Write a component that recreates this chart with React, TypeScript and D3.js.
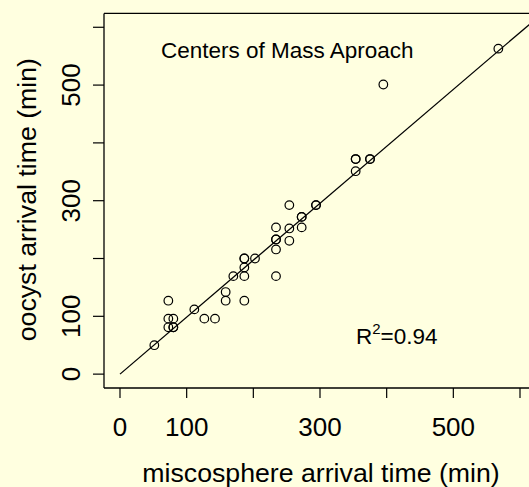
import React, { useEffect } from "react";
import * as d3 from "d3";

const W = 529;
const H = 487;

// micro-sphere arrival time (min) vs oocyst arrival time (min)
const microsphereTimes = [
  51.5, 72.5, 72.5, 80, 72.5, 80, 80, 111.5, 126.5, 142.5, 158.5, 158.5, 170,
  186.5, 186.5, 186.5, 186.5, 186.5, 202.5, 234, 234, 234, 234, 234, 254, 254,
  254, 272.5, 272.5, 272.5, 294, 294, 353.5, 353.5, 353.5, 375, 375, 395, 567.5,
];
const oocystTimes = [
  50, 127, 96, 96, 81, 81, 81, 112, 96, 96, 142, 127, 169.5, 200, 200, 184.6,
  169.5, 127, 200, 253.8, 233, 233, 215.7, 169.5, 292.4, 252, 230.6, 272, 272,
  253.8, 292.4, 292.4, 372, 372, 351, 372, 372, 501, 563,
];

const fitSlope = 0.985;
const fitIntercept = 0;
const fitXRange = [0, 620];

const tickValues = [0, 100, 200, 300, 400, 500, 600];
const tickLabelValues = [0, 100, 300, 500];

const xTitle = "miscosphere arrival time (min)";
const yTitle = "oocyst arrival time (min)";
const annotation = "Centers of Mass Aproach";
const r2Value = "0.94";

const BG = "#FFFFE0";
const FONT = "'Liberation Sans', Arial, Helvetica, sans-serif";

export default function App() {
  useEffect(() => {
    document.body.style.margin = "0";
    document.body.style.background = BG;
  }, []);

  const x = d3.scaleLinear().domain([-24, 624]).range([104, 536]);
  const y = d3.scaleLinear().domain([-24, 624]).range([388, 13.4]);

  const pts = microsphereTimes.map((v, i) => [v, oocystTimes[i]]);
  const line = d3
    .line<number>()
    .x((d) => x(d))
    .y((d) => y(fitIntercept + fitSlope * d));

  const plotLeft = x(-24);
  const plotRight = x(624);
  const plotTop = y(624);
  const plotBottom = y(-24);
  const cx = (x(-24) + x(624)) / 2;
  const cy = (y(-24) + y(624)) / 2;

  return (
    <svg
      width={W}
      height={H}
      style={{ position: "absolute", left: 0, top: 0, display: "block" }}
      fontFamily={FONT}
    >
      <rect x={0} y={0} width={W} height={H} fill={BG} />

      {/* regression line */}
      <path
        d={line(fitXRange) || ""}
        fill="none"
        stroke="#000"
        strokeWidth={1.3}
      />

      {/* points */}
      {pts.map((p, i) => (
        <circle
          key={i}
          cx={x(p[0])}
          cy={y(p[1])}
          r={4.3}
          fill="none"
          stroke="#000"
          strokeWidth={1.2}
        />
      ))}

      {/* box (right side falls outside the canvas) */}
      <line x1={plotLeft} x2={plotRight} y1={plotTop} y2={plotTop} stroke="#000" strokeWidth={1.3} />
      <line x1={plotLeft} x2={plotRight} y1={plotBottom} y2={plotBottom} stroke="#000" strokeWidth={1.3} />
      <line x1={plotLeft} x2={plotLeft} y1={plotTop} y2={plotBottom} stroke="#000" strokeWidth={1.3} />

      {/* x axis */}
      {tickValues.map((t) => (
        <line
          key={"xt" + t}
          x1={x(t)}
          x2={x(t)}
          y1={plotBottom}
          y2={plotBottom + 10}
          stroke="#000"
          strokeWidth={1.2}
        />
      ))}
      {tickLabelValues.map((t) => (
        <text key={"xl" + t} x={x(t)} y={435.5} textAnchor="middle" fontSize={26} fill="#000">
          {t}
        </text>
      ))}

      {/* y axis */}
      {tickValues.map((t) => (
        <line
          key={"yt" + t}
          x1={plotLeft - 11}
          x2={plotLeft}
          y1={y(t)}
          y2={y(t)}
          stroke="#000"
          strokeWidth={1.2}
        />
      ))}
      {tickLabelValues.map((t) => (
        <text
          key={"yl" + t}
          transform={`translate(80,${y(t)}) rotate(-90)`}
          textAnchor="middle"
          fontSize={26}
          fill="#000"
        >
          {t}
        </text>
      ))}

      {/* axis titles */}
      <text x={cx + 1} y={481.5} textAnchor="middle" fontSize={26.7} fill="#000">
        {xTitle}
      </text>
      <text
        transform={`translate(35.5,${cy - 1}) rotate(-90)`}
        textAnchor="middle"
        fontSize={26.7}
        fill="#000"
      >
        {yTitle}
      </text>

      {/* annotations */}
      <text x={161} y={58.3} fontSize={22.5} fill="#000">
        {annotation}
      </text>
      <text x={356} y={344.3} fontSize={22.5} fill="#000">
        R
        <tspan fontSize={15} dy={-10}>
          2
        </tspan>
        <tspan dy={10}>={r2Value}</tspan>
      </text>
    </svg>
  );
}
